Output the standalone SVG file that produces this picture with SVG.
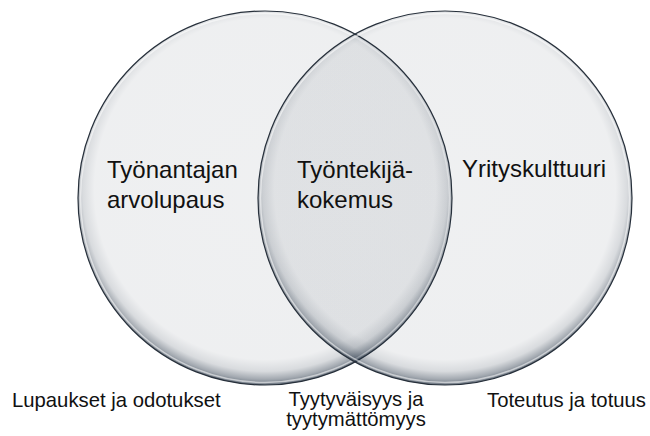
<svg xmlns="http://www.w3.org/2000/svg" width="650" height="436" viewBox="0 0 650 436">
  <style>
    .ring { stroke: #27303b; stroke-width: 1.2; }
    .hl { fill: none; stroke: #ffffff; stroke-opacity: 0.55; stroke-width: 1.5; }
    .main { font-family: "Liberation Sans", Arial, sans-serif; font-size: 24px; fill: #111111; }
    .sub { font-family: "Liberation Sans", Arial, sans-serif; font-size: 20.3px; fill: #111111; }
  </style>
  <defs>
    <radialGradient id="gL" gradientUnits="userSpaceOnUse" cx="265" cy="189" r="196">
      <stop offset="0" stop-color="#1c2b3d" stop-opacity="0.07"/>
      <stop offset="0.87" stop-color="#1c2b3d" stop-opacity="0.075"/>
      <stop offset="0.93" stop-color="#1c2b3d" stop-opacity="0.17"/>
      <stop offset="0.97" stop-color="#1c2b3d" stop-opacity="0.4"/>
      <stop offset="1" stop-color="#1c2b3d" stop-opacity="0.65"/>
    </radialGradient>
    <radialGradient id="gR" gradientUnits="userSpaceOnUse" cx="445" cy="189" r="196">
      <stop offset="0" stop-color="#1c2b3d" stop-opacity="0.07"/>
      <stop offset="0.87" stop-color="#1c2b3d" stop-opacity="0.075"/>
      <stop offset="0.93" stop-color="#1c2b3d" stop-opacity="0.17"/>
      <stop offset="0.97" stop-color="#1c2b3d" stop-opacity="0.4"/>
      <stop offset="1" stop-color="#1c2b3d" stop-opacity="0.65"/>
    </radialGradient>
  </defs>
  <rect width="650" height="436" fill="#ffffff"/>
  <g id="circle-left">
    <circle cx="265" cy="198" r="187" fill="url(#gL)" class="ring"/>
    <circle cx="265" cy="198" r="184.5" class="hl"/>
  </g>
  <g id="circle-right">
    <circle cx="445" cy="198" r="187" fill="url(#gR)" class="ring"/>
    <circle cx="445" cy="198" r="184.5" class="hl"/>
  </g>
  <g id="label-left">
    <text class="main" x="107" y="178">Työnantajan</text>
    <text class="main" x="107" y="208">arvolupaus</text>
  </g>
  <g id="label-center">
    <text class="main" x="297" y="178">Työntekijä-</text>
    <text class="main" x="297" y="208">kokemus</text>
  </g>
  <g id="label-right">
    <text class="main" x="462" y="177">Yrityskulttuuri</text>
  </g>
  <g id="caption-left">
    <text class="sub" x="12" y="407">Lupaukset ja odotukset</text>
  </g>
  <g id="caption-center">
    <text class="sub" x="356" y="406" text-anchor="middle">Tyytyväisyys ja</text>
    <text class="sub" x="356" y="426" text-anchor="middle">tyytymättömyys</text>
  </g>
  <g id="caption-right">
    <text class="sub" x="487" y="407">Toteutus ja totuus</text>
  </g>
</svg>
